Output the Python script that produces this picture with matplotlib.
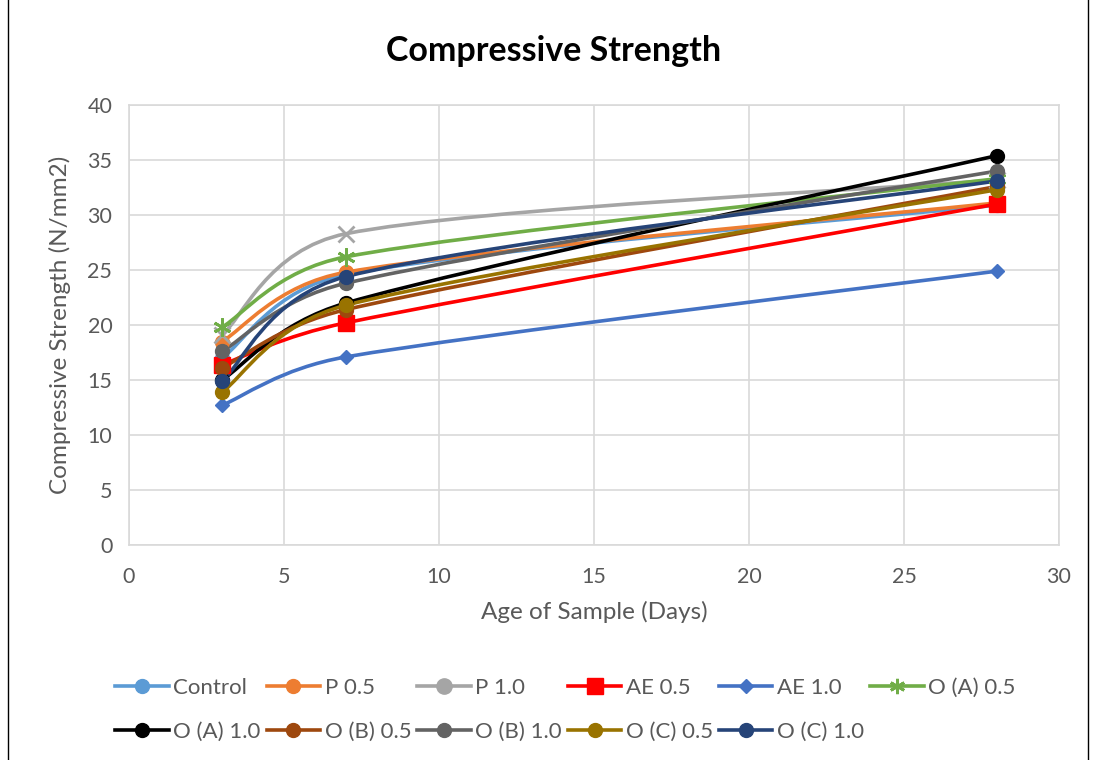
import matplotlib
matplotlib.use('Agg')
import numpy as np
import matplotlib.pyplot as plt
from matplotlib.path import Path
from matplotlib.patches import PathPatch, Rectangle
from matplotlib.lines import Line2D

plt.rcParams['font.family'] = ['Lato', 'DejaVu Sans']

days = [3, 7, 28]

series_names = ['Control', 'P 0.5', 'P 1.0', 'AE 0.5', 'AE 1.0', 'O (A) 0.5',
                'O (A) 1.0', 'O (B) 0.5', 'O (B) 1.0', 'O (C) 0.5', 'O (C) 1.0']

control = [17.0, 24.6, 30.9]
p_05 = [18.5, 24.8, 31.1]
p_10 = [19.1, 28.3, 33.2]
ae_05 = [16.4, 20.2, 31.0]
ae_10 = [12.7, 17.1, 24.9]
oa_05 = [19.8, 26.2, 33.3]
oa_10 = [15.0, 22.0, 35.4]
ob_05 = [16.1, 21.4, 32.6]
ob_10 = [17.6, 23.8, 34.0]
oc_05 = [13.9, 21.8, 32.3]
oc_10 = [14.9, 24.4, 33.1]

values = [control, p_05, p_10, ae_05, ae_10, oa_05, oa_10, ob_05, ob_10, oc_05, oc_10]

colors = ['#5B9BD5', '#ED7D31', '#A5A5A5', '#FF0000', '#4472C4', '#70AD47',
          '#000000', '#9E480E', '#636363', '#997300', '#264478']
markers = ['o', 'o', 'x', 's', 'D', (6, 2, 0), 'o', 'o', 'o', 'o', 'o']
legend_markers = ['o', 'o', 'o', 's', 'D', (6, 2, 0), 'o', 'o', 'o', 'o', 'o']
marker_sizes = [10, 10, 11, 11, 7, 13, 10, 10, 10, 10, 10]


def smooth_path(ax, xs, ys, clamp=0.5):
    # cubic bezier in screen space; tangent handles capped by segment length
    pts = ax.transData.transform(np.column_stack([xs, ys]))
    n = len(pts)
    verts = [pts[0]]
    codes = [Path.MOVETO]
    for i in range(n - 1):
        p0 = pts[max(i - 1, 0)]
        p1 = pts[i]
        p2 = pts[i + 1]
        p3 = pts[min(i + 2, n - 1)]
        seg = np.hypot(*(p2 - p1))
        h1 = (p2 - p0) / 6
        h2 = (p3 - p1) / 6
        for h in (h1, h2):
            length = np.hypot(*h)
            if length > clamp * seg:
                h *= clamp * seg / length
        verts += [p1 + h1, p2 - h2, p2]
        codes += [Path.CURVE4] * 3
    data_verts = ax.transData.inverted().transform(np.array(verts))
    return Path(data_verts, codes)


fig = plt.figure(figsize=(10.96, 7.6), dpi=100)
ax = fig.add_axes([0.1177, 0.2829, 0.8485, 0.5789])
ax.set_xlim(0, 30)
ax.set_ylim(0, 40)

for i, (name, vals) in enumerate(zip(series_names, values)):
    patch = PathPatch(smooth_path(ax, days, vals), fill=False, edgecolor=colors[i],
                      linewidth=2.6, zorder=3 + i * 0.1, capstyle='round')
    ax.add_patch(patch)
    mew = 2 if markers[i] in ('x', (6, 2, 0)) else 1
    ax.plot(days, vals, linestyle='none', marker=markers[i], markersize=marker_sizes[i],
            color=colors[i], markeredgecolor=colors[i], markeredgewidth=mew,
            zorder=4 + i * 0.1)

ax.set_xticks(range(0, 31, 5))
ax.set_yticks(range(0, 41, 5))
ax.grid(True, color='#D9D9D9', linewidth=1.2)
ax.set_axisbelow(True)
for s in ax.spines.values():
    s.set_color('#D9D9D9')
    s.set_linewidth(1.2)
ax.tick_params(length=0, labelsize=15.5, colors='#595959')
ax.tick_params(axis='x', pad=16)
ax.tick_params(axis='y', pad=12)

ax.set_xlabel('Age of Sample (Days)', fontsize=17.5, color='#595959', labelpad=10)
ax.set_ylabel('Compressive Strength (N/mm2)', fontsize=17.5, color='#595959', labelpad=12)
fig.text(0.505, 0.933, 'Compressive Strength', ha='center', va='center',
         fontsize=24.5, fontweight='bold', color='#000000')

handles = [Line2D([], [], color=colors[i], linewidth=2.6, marker=legend_markers[i],
                  markersize=marker_sizes[i] if i != 5 else 11,
                  markeredgewidth=2 if i == 5 else 1)
           for i in range(len(series_names))]

# column-major fill so rows read left to right
order = [0, 6, 1, 7, 2, 8, 3, 9, 4, 10, 5]
leg = fig.legend([handles[k] for k in order], [series_names[k] for k in order],
                 loc='center left', bbox_to_anchor=(0.087, 0.066), ncol=6,
                 frameon=False, fontsize=16, handlelength=2.4, handletextpad=0.2,
                 columnspacing=0.28, labelspacing=1.1, labelcolor='#595959')

fig.patches.append(Rectangle((0.007, -0.01), 0.986, 1.02, transform=fig.transFigure,
                             fill=False, edgecolor='#000000', linewidth=1.0))

fig.savefig('out.png', dpi=100)
